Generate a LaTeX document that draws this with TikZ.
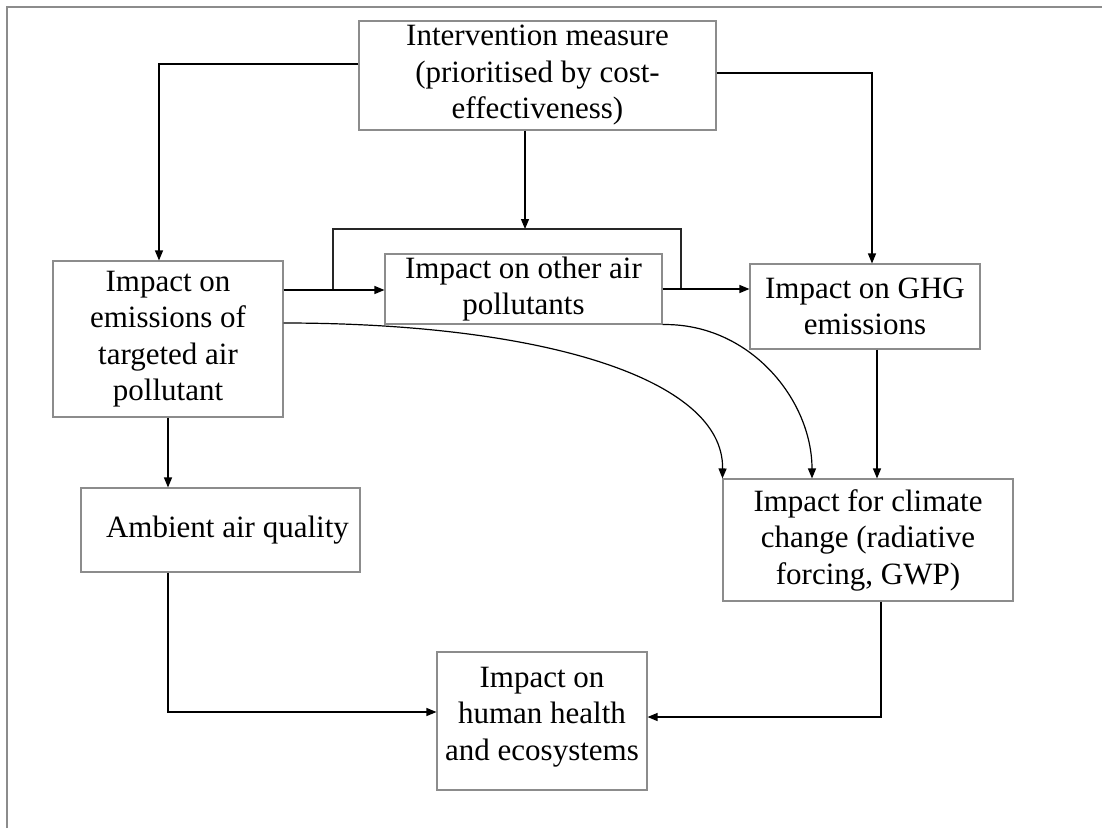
\documentclass[tikz,border=0pt]{standalone}
\usepackage{fontspec}
\setmainfont{Liberation Serif}
\usetikzlibrary{arrows.meta}
\begin{document}
\begin{tikzpicture}[x=1pt,y=-1pt,
  box/.style={draw=black!45,line width=1.1pt,inner sep=0pt,align=center,
    font=\fontsize{31}{36.5}\selectfont},
  arr/.style={draw=black,line width=1.2pt,-{Triangle[length=10pt,width=8pt]}},
  link/.style={draw=black!85,line width=1.2pt}]
\useasboundingbox (0,0) rectangle (1102,828);
\draw[black!45,line width=1.5pt] (7,828) -- (7,7) -- (1102,7);

\node[box,minimum width=357pt,minimum height=109pt] (interv) at (537.5,75.5)
  {Intervention measure\\(prioritised by cost-\\effectiveness)};
\node[box,minimum width=230pt,minimum height=156pt] (targ) at (168,339)
  {Impact on\\emissions of\\targeted air\\pollutant};
\node[box,minimum width=277pt,minimum height=70pt] (other) at (523.5,289)
  {Impact on other air\\pollutants};
\node[box,minimum width=230pt,minimum height=85pt] (ghg) at (865,306.5)
  {Impact on GHG\\emissions};
\node[box,minimum width=279pt,minimum height=84pt] (amb) at (220.5,530)
  {\hspace*{14pt}Ambient air quality};
\node[box,minimum width=290pt,minimum height=122pt] (clim) at (868,540)
  {Impact for climate\\change (radiative\\forcing, GWP)};
\node[box,minimum width=210pt,minimum height=138pt] (health) at (542,721)
  {Impact on\\human health\\and ecosystems\\[-22pt]\mbox{}};

\coordinate (brL) at (333,229);
\coordinate (brR) at (681,229);
\coordinate (brM) at (525,229);

% from intervention
\draw[arr] (interv.west |- 0,64) -| (targ.north -| 159,0);
\draw[arr] (interv.east |- 0,73) -| (ghg.north -| 872,0);
\draw[arr] (interv.south -| brM) -- (brM);

% bracket
\draw[link] (targ.east |- 0,290) -| (brL) -- (brR) -- (brR |- 0,289);
\draw[arr] (targ.east |- 0,290) -- (other.west |- 0,290);
\draw[arr] (other.east |- 0,289) -- (ghg.west |- 0,289);

% curves
\draw[arr] (targ.east |- 0,323) .. controls (540,323) and (724,378) .. (clim.north west);
\draw[arr] (other.south east) .. controls (750,323) and (812,400) .. (clim.north -| 812,0);
\draw[arr] (ghg.south -| 877,0) -- (clim.north -| 877,0);

% lower part
\draw[arr] (targ.south) -- (amb.north -| targ.south);
\draw[arr] (amb.south -| 168,0) |- (health.west |- 0,712);
\draw[arr] (clim.south -| 881,0) |- (health.east |- 0,717);
\end{tikzpicture}
\end{document}
